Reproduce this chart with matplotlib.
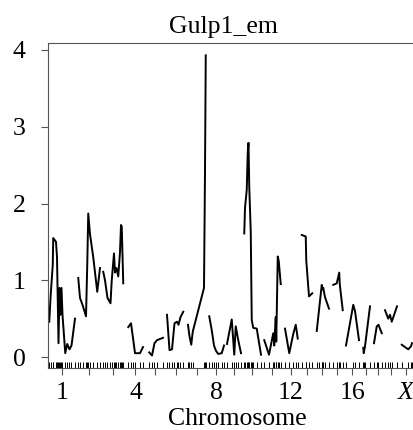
import matplotlib
matplotlib.use('Agg')
import matplotlib.pyplot as plt
import numpy as np

chromosomes = ['1', '2', '3', '4', '5', '6', '7', '8', '9', '10',
               '11', '12', '13', '14', '15', '16', '17', '18', '19', 'X']
chrom_lengths = [104, 88, 84, 68, 68, 72, 72, 60, 56, 68,
                 68, 56, 48, 52, 44, 52, 36, 32, 48, 48]
gap_cm = 12
shown_labels = ['1', '4', '8', '12', '16', 'X']
title = 'Gulp1_em'
yticks = [0, 1, 2, 3, 4]

pos1 = [1, 7, 15, 17, 28, 32, 38, 42, 46, 50, 54, 65, 73, 82, 90, 104]
lod1 = [0.46, 0.82, 1.2, 1.55, 1.5, 1.3, 0.18, 0.9, 0.55, 0.9, 0.55, 0.05, 0.17, 0.1, 0.15, 0.5]
pos2 = [1, 8, 19, 32, 37, 41, 48, 61, 77, 88]
lod2 = [1.03, 0.77, 0.67, 0.53, 1.2, 1.87, 1.6, 1.3, 0.85, 1.16]
pos3 = [1, 8, 18, 30, 35, 44, 48, 54, 61, 68, 72, 75, 81]
lod3 = [1.11, 1.0, 0.77, 0.7, 1.0, 1.35, 1.1, 1.16, 1.05, 1.37, 1.72, 1.7, 0.96]
pos4 = [5, 16, 26, 32, 52, 64]
lod4 = [0.39, 0.44, 0.2, 0.05, 0.05, 0.13]
pos5 = [9, 20, 30, 40, 64]
lod5 = [0.06, 0.02, 0.18, 0.22, 0.25]
pos6 = [0, 10, 20, 30, 40, 46, 54, 65]
lod6 = [0.55, 0.09, 0.1, 0.44, 0.46, 0.42, 0.52, 0.59]
pos7 = [0, 6, 13, 19, 64, 68, 71]
lod7 = [0.42, 0.27, 0.16, 0.33, 0.9, 2.41, 3.93]
pos8 = [1, 11, 20, 28, 37, 51, 60]
lod8 = [0.53, 0.35, 0.15, 0.08, 0.04, 0.05, 0.15]
pos9 = [0, 19, 29, 35, 45, 56]
lod9 = [0.17, 0.49, 0.03, 0.4, 0.22, 0.05]
pos10 = [1, 4, 11, 15, 18, 21, 27, 31, 37, 51, 68]
lod10 = [1.61, 1.94, 2.18, 2.67, 2.79, 2.22, 1.63, 0.48, 0.38, 0.37, 0.03]
pos11 = [1, 20, 37, 41, 47, 49, 55, 59, 67]
lod11 = [0.22, 0.03, 0.31, 0.15, 0.52, 0.2, 1.31, 1.25, 0.95]
pos12 = [4, 21, 37, 47, 55]
lod12 = [0.37, 0.05, 0.3, 0.42, 0.24]
pos13 = [3, 19, 21, 32, 45]
lod13 = [1.59, 1.57, 1.26, 0.79, 0.83]
pos14 = [3, 13, 23, 26, 29, 36, 52]
lod14 = [0.34, 0.64, 0.94, 0.88, 0.9, 0.78, 0.63]
pos15 = [5, 19, 29, 31, 43]
lod15 = [0.94, 0.96, 1.1, 0.95, 0.61]
pos16 = [0, 29, 36, 52]
lod16 = [0.15, 0.68, 0.6, 0.22]
pos17 = [5, 7, 12, 32]
lod17 = [0.12, 0.05, 0.14, 0.66]
pos18 = [0, 11, 18, 31]
lod18 = [0.18, 0.4, 0.42, 0.31]
pos19 = [0, 13, 20, 27, 48]
lod19 = [0.61, 0.5, 0.55, 0.46, 0.66]
posX = [7, 33, 44, 48]
lodX = [0.16, 0.1, 0.14, 0.18]

positions = [pos1, pos2, pos3, pos4, pos5, pos6, pos7, pos8, pos9, pos10,
             pos11, pos12, pos13, pos14, pos15, pos16, pos17, pos18, pos19, posX]
lods = [lod1, lod2, lod3, lod4, lod5, lod6, lod7, lod8, lod9, lod10,
        lod11, lod12, lod13, lod14, lod15, lod16, lod17, lod18, lod19, lodX]

serif = 'Liberation Serif'
fs = 18.5

fig = plt.figure(figsize=(4.14, 4.30), dpi=100)
W, H = 414, 430
ax = fig.add_axes([48 / W, 1 - 368 / H, 1 - 48 / W, (368 - 43) / H])

offset = 0
centers = []
for L, p, l in zip(chrom_lengths, positions, lods):
    x = np.array(p, dtype=float) + offset
    ax.plot(x, l, color='black', lw=1.4, solid_joinstyle='round')
    ax.vlines(x, 0, 0.02, transform=ax.get_xaxis_transform(), color='black', lw=0.7)
    centers.append(offset + L / 2)
    offset += L + gap_cm

ax.set_xlim(-4, 1460)
ax.set_ylim(-0.143, 4.091)

ax.set_xticks(centers)
ax.set_xticklabels([c if c in shown_labels else '' for c in chromosomes],
                   fontfamily=serif, fontsize=fs)
for t, c in zip(ax.get_xticklabels(), chromosomes):
    if c == 'X':
        t.set_fontstyle('italic')
ax.set_yticks(yticks)
ax.set_yticklabels([str(v) for v in yticks], fontfamily=serif, fontsize=fs)

ax.tick_params(axis='x', length=5, width=0.8, color='#555555', pad=5)
ax.tick_params(axis='y', length=5, width=0.8, color='#555555', pad=11)

for s in ['left', 'top', 'bottom']:
    ax.spines[s].set_color('#555555')
    ax.spines[s].set_linewidth(0.8)
ax.spines['right'].set_visible(False)

fig.text(223 / W, 1 - 33 / H, title, ha='center', va='baseline',
         fontfamily=serif, fontsize=fs)
fig.text(237.5 / W, 1 - 425 / H, 'Chromosome', ha='center', va='baseline',
         fontfamily=serif, fontsize=fs)

fig.savefig('out.png', dpi=100)
